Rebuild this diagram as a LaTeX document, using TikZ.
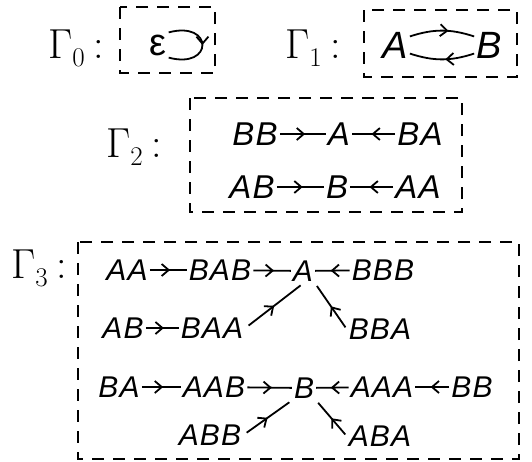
\documentclass[tikz,border=0pt]{standalone}
\usepackage{fontspec}
\newfontfamily\handfont[LetterSpace=4]{Liberation Sans}
\usepackage{tikz}
\usetikzlibrary{
  arrows.meta,
  decorations.markings
}

\newcommand{\gname}[1]{%
  Γ\raisebox{-0.2em}{\fontsize{27}{27}\selectfont #1}\hspace{0.2em}:}

\begin{document}
\begin{tikzpicture}[x=1pt,y=-1pt,
  word/.style={inner sep=2pt, font=\handfont\itshape\fontsize{#1}{#1}\selectfont},
  word/.default=30,
  glabel/.style={inner sep=0pt, anchor=base west, font=\fontsize{42}{42}\selectfont},
  gbox/.style={line width=2.2pt, dash pattern=on 12pt off 9pt},
  conn/.style={line width=1.8pt, postaction={decorate},
    decoration={markings, mark=at position #1 with
      {\arrow{Straight Barb[length=7pt,width=12pt,line width=1.8pt]}}}},
  conn/.default=0.55]
  \useasboundingbox (0,0) rectangle (532,461);
  % names of the four graphs
  \node[glabel] (g0) at (48,58)  {\gname{0}};
  \node[glabel] (g1) at (285,58) {\gname{1}};
  \node[glabel] (g2) at (106,157) {\gname{2}};
  \node[glabel] (g3) at (11,278) {\gname{3}};
  % dashed frames
  \draw[gbox] (120,7) rectangle (215,73);
  \draw[gbox] (364,10) rectangle (517,77);
  \draw[gbox] (190,98) rectangle (462,212);
  \draw[gbox] (78,242) rectangle (519,459);
  % Gamma_0
  \node[inner sep=2pt, font=\handfont\fontsize{38}{38}\selectfont] (eps) at (158,45) {ε};
  \draw[conn=0.5] (eps.north east) .. controls +(45,-12) and +(45,12) .. (eps.south east);
  % Gamma_1
  \node[word=38] (a1) at (395,45) {A};
  \node[word=38] (b1) at (489,45) {B};
  \draw[conn=0.6] (a1.30) to[bend left=18] (b1.150);
  \draw[conn=0.45] (b1.-150) to[bend left=18] (a1.-30);
  % Gamma_2
  \node[word=33] (bb2) at (255,134) {BB};
  \node[word=33] (a2)  at (339,134) {A};
  \node[word=33] (ba2) at (420,134) {BA};
  \node[word=33] (ab2) at (252,187) {AB};
  \node[word=33] (b2)  at (337,187) {B};
  \node[word=33] (aa2) at (418,187) {AA};
  \draw[conn] (bb2) -- (a2);
  \draw[conn] (ba2) -- (a2);
  \draw[conn] (ab2) -- (b2);
  \draw[conn] (aa2) -- (b2);
  % Gamma_3, upper tree
  \node[word] (aa3)  at (127,270) {AA};
  \node[word] (bab3) at (220,270) {BAB};
  \node[word] (a3)   at (303,271) {A};
  \node[word] (bbb3) at (383,270) {BBB};
  \node[word] (ab3)  at (123,328) {AB};
  \node[word] (baa3) at (212,328) {BAA};
  \node[word] (bba3) at (380,329) {BBA};
  \draw[conn] (aa3) -- (bab3);
  \draw[conn] (bab3) -- (a3);
  \draw[conn] (bbb3) -- (a3);
  \draw[conn] (ab3) -- (baa3);
  \draw[conn=0.5, shorten <=4pt, shorten >=3pt] (baa3.east) -- (a3.south);
  \draw[conn=0.5, shorten <=2pt, shorten >=3pt] (bba3.west) -- (a3.south east);
  % Gamma_3, lower tree
  \node[word] (ba3)  at (119,387) {BA};
  \node[word] (aab3) at (214,387) {AAB};
  \node[word] (b3)   at (304,388) {B};
  \node[word] (aaa3) at (382,387) {AAA};
  \node[word] (bb3)  at (472,387) {BB};
  \node[word] (abb3) at (210,435) {ABB};
  \node[word] (aba3) at (380,436) {ABA};
  \draw[conn] (ba3) -- (aab3);
  \draw[conn] (aab3) -- (b3);
  \draw[conn] (aaa3) -- (b3);
  \draw[conn] (bb3) -- (aaa3);
  \draw[conn=0.5, shorten <=4pt, shorten >=3pt] (abb3.east) -- (b3.south west);
  \draw[conn=0.5, shorten <=2pt, shorten >=3pt] (aba3.west) -- (b3.south east);
\end{tikzpicture}
\end{document}
